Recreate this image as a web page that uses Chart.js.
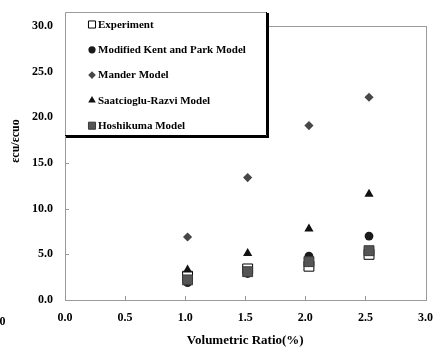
<!DOCTYPE html>
<html>
<head>
<meta charset="utf-8">
<script src="https://cdn.jsdelivr.net/npm/chart.js@4"></script>
<style>
html,body{margin:0;padding:0;background:#fff;}
#wrap{width:444px;height:356px;position:relative;}
</style>
</head>
<body>
<div id="wrap"><canvas id="c" width="444" height="356"></canvas></div>
<script>
// ---- data ----
const ratios = [1.02, 1.52, 2.03, 2.53];
const experiment = [2.6, 3.4, 3.7, 5.0];
const kentPark = [1.9, 2.9, 4.8, 7.0];
const mander = [6.9, 13.4, 19.1, 22.2];
const saatcioglu = [3.3, 5.1, 7.8, 11.6];
const hoshikuma = [2.2, 3.1, 4.2, 5.4];
const seriesNames = ['Experiment', 'Modified Kent and Park Model', 'Mander Model', 'Saatcioglu-Razvi Model', 'Hoshikuma Model'];
const xTitle = 'Volumetric Ratio(%)';
const yTitle = 'εcu/εcuo';

const FONT = '"Liberation Serif", "Times New Roman", serif';
const toPts = arr => arr.map((v, i) => ({x: ratios[i], y: v}));

const styles = [
  {pointStyle: 'rect', radius: 7, bg: '#ffffff', border: '#000000', bw: 1, lr: 5},
  {pointStyle: 'circle', radius: 4.4, bg: '#1a1a1a', border: '#1a1a1a', bw: 0, lr: 3.6},
  {pointStyle: 'rectRot', radius: 4.6, bg: '#474747', border: '#474747', bw: 0, lr: 3.8},
  {pointStyle: 'triangle', radius: 5.3, bg: '#111111', border: '#111111', bw: 0, lr: 4.4},
  {pointStyle: 'rect', radius: 7, bg: '#555555', border: '#3a3a3a', bw: 1, lr: 5}
];
const allSeries = [experiment, kentPark, mander, saatcioglu, hoshikuma];

const datasets = allSeries.map((s, i) => ({
  label: seriesNames[i],
  data: toPts(s),
  pointStyle: styles[i].pointStyle,
  pointRadius: styles[i].radius,
  pointBackgroundColor: styles[i].bg,
  pointBorderColor: styles[i].border,
  pointBorderWidth: styles[i].bw,
  showLine: false,
  order: 5 - i
}));

const decor = {
  id: 'decor',
  beforeDatasetsDraw(chart) {
    const {ctx, chartArea: a, scales: {x, y}} = chart;
    ctx.save();
    ctx.strokeStyle = '#9a9a9a';
    ctx.lineWidth = 1;
    ctx.strokeRect(Math.round(a.left) + 0.5, Math.round(a.top) + 0.5, Math.round(a.right - a.left), Math.round(a.bottom - a.top));
    ctx.beginPath();
    y.ticks.forEach(t => {
      const py = Math.round(y.getPixelForValue(t.value)) + 0.5;
      ctx.moveTo(a.left, py); ctx.lineTo(a.left + 4, py);
    });
    x.ticks.forEach(t => {
      const px = Math.round(x.getPixelForValue(t.value)) + 0.5;
      ctx.moveTo(px, a.bottom); ctx.lineTo(px, a.bottom - 4);
    });
    ctx.stroke();
    ctx.restore();
  },
  afterDraw(chart) {
    const {ctx} = chart;
    ctx.save();
    // y title
    ctx.fillStyle = '#000';
    ctx.font = 'bold 12px ' + FONT;
    ctx.textAlign = 'center';
    ctx.textBaseline = 'middle';
    ctx.translate(16, 141);
    ctx.rotate(-Math.PI / 2);
    ctx.fillText(yTitle, 0, 0);
    ctx.restore();

    ctx.save();
    // stray cropped label at the left edge
    ctx.fillStyle = '#000';
    ctx.font = 'bold 12px ' + FONT;
    ctx.textAlign = 'right';
    ctx.textBaseline = 'middle';
    ctx.fillText('3.0', 5.5, 322);

    // legend box
    const L = 65, T = 12, R = 268, B = 137;
    ctx.fillStyle = '#000';
    ctx.fillRect(L + 1, T + 1, R - L, B - T);
    ctx.fillStyle = '#fff';
    ctx.fillRect(L, T, R - L - 1, B - T - 1);
    ctx.strokeStyle = '#9a9a9a';
    ctx.lineWidth = 1;
    ctx.beginPath();
    ctx.moveTo(L + 0.5, B - 1); ctx.lineTo(L + 0.5, T + 0.5); ctx.lineTo(R - 1, T + 0.5);
    ctx.stroke();
    ctx.strokeStyle = '#000';
    ctx.beginPath();
    ctx.moveTo(R - 1.5, T); ctx.lineTo(R - 1.5, B - 1.5); ctx.lineTo(L, B - 1.5);
    ctx.stroke();

    ctx.font = 'bold 11px ' + FONT;
    ctx.textAlign = 'left';
    ctx.textBaseline = 'middle';
    seriesNames.forEach((name, i) => {
      const cy = 24.5 + i * 25.3;
      const st = styles[i];
      ctx.fillStyle = st.bg;
      ctx.strokeStyle = st.border;
      ctx.lineWidth = st.bw;
      Chart.helpers.drawPoint(ctx, {pointStyle: st.pointStyle, radius: st.lr, borderWidth: st.bw, rotation: 0}, 92, cy);
      ctx.fillStyle = '#000';
      ctx.fillText(name, 98, cy + 0.5);
    });
    ctx.restore();
  }
};

new Chart(document.getElementById('c'), {
  type: 'scatter',
  data: {datasets},
  options: {
    responsive: false,
    animation: false,
    devicePixelRatio: 1,
    layout: {padding: {top: 26, right: 17, left: 0, bottom: 0}},
    plugins: {legend: {display: false}, tooltip: {enabled: false}},
    scales: {
      x: {
        type: 'linear', min: 0, max: 3,
        grid: {display: false, drawTicks: false},
        border: {display: false},
        ticks: {stepSize: 0.5, padding: 11, color: '#000', font: {family: FONT, size: 12, weight: 'bold'},
                callback: v => v.toFixed(1), maxRotation: 0},
        title: {display: true, text: xTitle, color: '#000', font: {family: FONT, size: 13, weight: 'bold'}, padding: {top: 0, bottom: 8}},
        afterFit: s => { s.height = 56; }
      },
      y: {
        type: 'linear', min: 0, max: 30,
        grid: {display: false, drawTicks: false},
        border: {display: false},
        ticks: {stepSize: 5, padding: 12, color: '#000', font: {family: FONT, size: 12, weight: 'bold'},
                callback: v => v.toFixed(1)},
        afterFit: s => { s.width = 65; }
      }
    }
  },
  plugins: [decor]
});
</script>
</body>
</html>
